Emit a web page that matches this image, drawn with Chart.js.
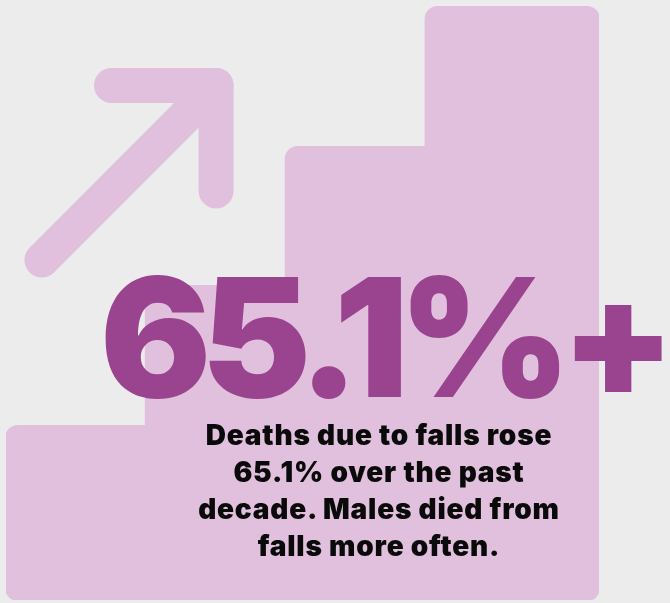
<!DOCTYPE html>
<html>
<head>
<meta charset="utf-8">
<script src="https://cdn.jsdelivr.net/npm/chart.js@4/dist/chart.umd.min.js"></script>
<style>
  html, body { margin: 0; padding: 0; background: #ececec; }
  #wrap { position: relative; width: 670px; height: 603px; overflow: hidden; }
  #chart { position: absolute; left: 0; top: 0; }
  .big {
    position: absolute; left: 100px; top: 255px;
    font-family: Inter, Lato, sans-serif; font-weight: 900;
    font-size: 165px; line-height: 165px; letter-spacing: -10px;
    color: #9a438e; white-space: nowrap;
  }
  .note {
    position: absolute; left: 179px; top: 417px; width: 400px;
    font-family: Inter, Lato, sans-serif; font-weight: 900;
    font-size: 28px; line-height: 37px; letter-spacing: 0.8px;
    color: #0a0a0a; text-align: center;
  }
</style>
</head>
<body>
<div id="wrap">
  <canvas id="chart" width="670" height="603"></canvas>
  <div class="big">65.1%+</div>
  <div class="note">Deaths due to falls rose<br>65.1% over the past<br>decade. Males died from<br>falls more often.</div>
</div>
<script>
// staircase steps (x in step widths, height in px-like units)
const steps = ["Step 1", "Step 2", "Step 3", "Step 4"]
const stepStart = [0, 1, 2, 3]
const stepEnd = [1, 2, 3, 4.24]
const stepHeight = [174, 314, 453, 593]

// arrow: shaft and head
const shaftX = [0.257, 1.502]
const shaftY = [340, 514.5]
const headX = [0.754, 1.502, 1.502]
const headY = [514.5, 514.5, 409]

const fill = "#e0c0dd"
const R = 13

const corners = [
    { topLeft: R, topRight: 0, bottomLeft: R, bottomRight: 0 },
    { topLeft: R, topRight: 0, bottomLeft: 0, bottomRight: 0 },
    { topLeft: R, topRight: 0, bottomLeft: 0, bottomRight: 0 },
    { topLeft: R, topRight: R, bottomLeft: 0, bottomRight: R }
]

const datasets = steps.map((s, i) => ({
    type: "bar",
    label: s,
    data: [{ x: (stepStart[i] + stepEnd[i]) / 2, y: stepHeight[i] }],
    backgroundColor: fill,
    borderWidth: 0,
    borderSkipped: false,
    borderRadius: corners[i],
    inflateAmount: 1,
    grouped: false,
    barThickness: 100
}))

function arrowLine(xs, ys) {
    return {
        type: "line",
        data: xs.map((x, i) => ({ x: x, y: ys[i] })),
        borderColor: fill,
        borderWidth: 35,
        borderCapStyle: "round",
        borderJoinStyle: "round",
        pointRadius: 0,
        tension: 0,
        fill: false
    }
}

datasets.push(arrowLine(shaftX, shaftY))
datasets.push(arrowLine(headX, headY))

const chart = new Chart(document.getElementById("chart").getContext("2d"), {
    data: { datasets: datasets },
    options: {
        responsive: false,
        animation: false,
        layout: { autoPadding: false, padding: { left: 6, right: 71, top: 0, bottom: 3 } },
        plugins: { legend: { display: false }, tooltip: { enabled: false } },
        scales: {
            x: { type: "linear", min: 0, max: 4.24, offset: false, display: false },
            y: { min: 0, max: 600, display: false }
        }
    }
})

// set bar widths from the x scale so each step spans its start..end
const xs = chart.scales.x
steps.forEach((s, i) => {
    chart.data.datasets[i].barThickness =
        Math.abs(xs.getPixelForValue(stepEnd[i]) - xs.getPixelForValue(stepStart[i]))
})
chart.update("none")
</script>
</body>
</html>
